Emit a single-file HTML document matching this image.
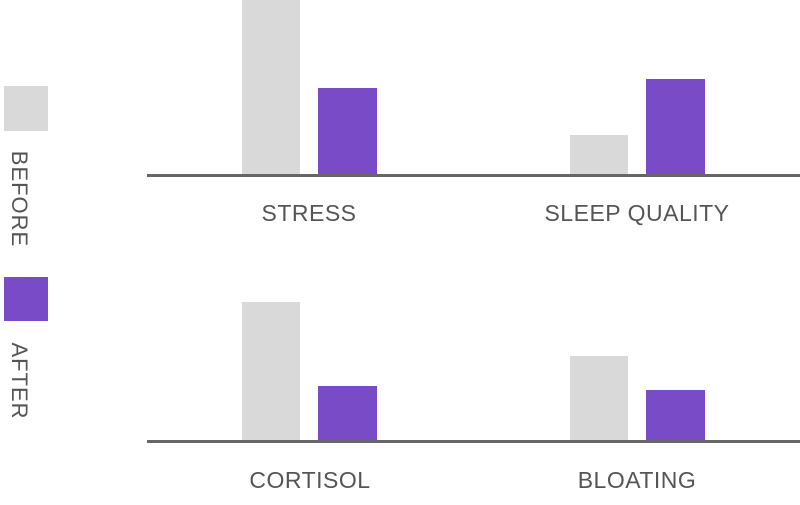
<!DOCTYPE html>
<html><head><style>
body{margin:0;width:800px;height:505px;background:#fff;position:relative;overflow:hidden;font-family:"Liberation Sans",sans-serif;}
.r{position:absolute;}
.g{background:#d9d9d9;}
.p{background:#7a4bc6;}
.ax{position:absolute;left:147px;width:653px;height:3px;background:#666;}
.lab{position:absolute;width:300px;text-align:center;font-size:23px;color:#555;letter-spacing:0.5px;}
.leg{position:absolute;font-size:22px;color:#555;transform:rotate(90deg);transform-origin:center;white-space:nowrap;text-align:center;width:120px;letter-spacing:1px;}
</style></head><body>
<div class="r g" style="left:242px;top:0;width:58px;height:175px"></div>
<div class="r p" style="left:318px;top:88px;width:59px;height:87px"></div>
<div class="r g" style="left:570px;top:135px;width:58px;height:40px"></div>
<div class="r p" style="left:646px;top:79px;width:59px;height:96px"></div>
<div class="ax" style="top:174px"></div>
<div class="r g" style="left:242px;top:302px;width:58px;height:139px"></div>
<div class="r p" style="left:318px;top:386px;width:59px;height:55px"></div>
<div class="r g" style="left:570px;top:356px;width:58px;height:85px"></div>
<div class="r p" style="left:646px;top:390px;width:59px;height:51px"></div>
<div class="ax" style="top:440px"></div>
<div class="lab" style="left:159px;top:200px">STRESS</div>
<div class="lab" style="left:487px;top:200px">SLEEP QUALITY</div>
<div class="lab" style="left:160px;top:467px">CORTISOL</div>
<div class="lab" style="left:487px;top:467px">BLOATING</div>
<div class="r g" style="left:4px;top:86px;width:44px;height:45px"></div>
<div class="r p" style="left:4px;top:277px;width:44px;height:44px"></div>
<div class="leg" style="left:-41px;top:186px">BEFORE</div>
<div class="leg" style="left:-41px;top:368px">AFTER</div>
</body></html>
